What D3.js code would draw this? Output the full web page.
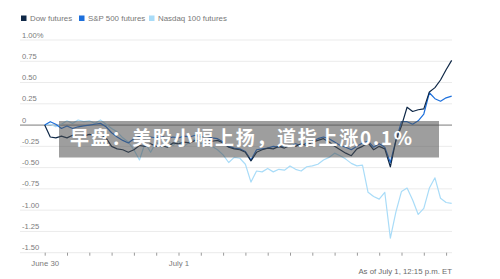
<!DOCTYPE html>
<html>
<head>
<meta charset="utf-8">
<script src="https://cdn.jsdelivr.net/npm/d3@7"></script>
<style>
  body { margin: 0; background: #fff; }
  svg { display: block; font-family: "Liberation Sans", Arial, sans-serif; }
</style>
</head>
<body>
<svg id="chart" width="500" height="279"></svg>
<script>
// hours since June 30, 00:00 (one reading per hour)
const hours = d3.range(0, 74);

const seriesNames = ['Dow futures', 'S&P 500 futures', 'Nasdaq 100 futures'];
const seriesColors = ['#0f2847', '#1c6fdc', '#a9dcf8'];

// percent change
const dow = [
  0, -0.14, -0.15, -0.13, -0.15, -0.12, -0.14, -0.13, -0.11, -0.12,
  -0.11, -0.15, -0.25, -0.28, -0.29, -0.32, -0.29, -0.24, -0.25, -0.22,
  -0.25, -0.24, -0.26, -0.21, -0.22, -0.2, -0.21, -0.18, -0.19, -0.16,
  -0.19, -0.18, -0.21, -0.26, -0.28, -0.29, -0.32, -0.42, -0.32, -0.29,
  -0.27, -0.28, -0.25, -0.27, -0.24, -0.25, -0.22, -0.24, -0.2, -0.18,
  -0.16, -0.2, -0.25, -0.29, -0.33, -0.36, -0.28, -0.25, -0.21, -0.29,
  -0.25, -0.28, -0.49, -0.18, -0.01, 0.21, 0.16, 0.18, 0.19, 0.39,
  0.44, 0.53, 0.65, 0.76
];
const sp500 = [
  0, 0.04, 0.01, -0.04, -0.01, -0.04, -0.02, -0.01, 0, 0.01,
  0.02, -0.02, -0.09, -0.14, -0.18, -0.21, -0.16, -0.13, -0.16, -0.14,
  -0.15, -0.13, -0.16, -0.14, -0.15, -0.13, -0.14, -0.12, -0.14, -0.13,
  -0.15, -0.16, -0.2, -0.25, -0.27, -0.28, -0.31, -0.41, -0.29, -0.28,
  -0.27, -0.25, -0.26, -0.24, -0.25, -0.22, -0.24, -0.21, -0.19, -0.16,
  -0.14, -0.16, -0.2, -0.24, -0.26, -0.29, -0.25, -0.21, -0.19, -0.26,
  -0.22, -0.26, -0.44, -0.18, 0.04, 0.04, 0.01, 0.05, 0.13, 0.38,
  0.31, 0.28, 0.32, 0.34
];
const nasdaq = [
  0, 0.01, -0.02, 0.01, 0.05, 0.02, 0.06, 0.04, 0.05, 0.02,
  0.06, 0.01, -0.04, -0.08, -0.15, -0.2, -0.29, -0.41, -0.21, -0.32,
  -0.2, -0.26, -0.18, -0.24, -0.19, -0.25, -0.2, -0.16, -0.22, -0.19,
  -0.25, -0.29, -0.35, -0.44, -0.38, -0.39, -0.46, -0.67, -0.54, -0.55,
  -0.51, -0.55, -0.52, -0.53, -0.48, -0.52, -0.54, -0.49, -0.48, -0.46,
  -0.41, -0.38, -0.33, -0.36, -0.4, -0.45, -0.48, -0.47, -0.79, -0.84,
  -0.87, -0.79, -1.33, -1.02, -0.78, -0.74, -0.88, -1.05, -0.98, -0.74,
  -0.62, -0.86, -0.91, -0.92
];

const yTicks = [1, 0.75, 0.5, 0.25, 0, -0.25, -0.5, -0.75, -1, -1.25, -1.5];
const xTicks = d3.range(0, 73, 4);
const xLabels = { 0: 'June 30', 24: 'July 1' };
const footnote = 'As of July 1, 12:15 p.m. ET';
const banner = '早盘：美股小幅上扬，道指上涨0.1%';

const svg = d3.select('#chart');
const left = 20, right = 452;

const x = d3.scaleLinear().domain([0, 72]).range([44.7, 446.1]);
const y = d3.scaleLinear().domain([-1.5, 1]).range([252.7, 40]);

// gridlines + y labels
svg.append('g')
  .selectAll('line')
  .data(yTicks)
  .join('line')
  .attr('x1', left).attr('x2', right)
  .attr('y1', d => y(d)).attr('y2', d => y(d))
  .attr('stroke', d => d === 0 ? '#7a7a7a' : '#ebebeb')
  .attr('stroke-width', 1);

svg.append('g')
  .selectAll('text')
  .data(yTicks)
  .join('text')
  .attr('x', 22)
  .attr('y', d => y(d) - 2.5)
  .attr('font-size', 7.6)
  .attr('fill', '#7a7a7a')
  .text(d => d === 1 ? '1.00%' : d === 0 ? '0' : d.toFixed(2));

// x axis ticks
const xAxis = d3.axisBottom(x)
  .tickValues(xTicks)
  .tickSize(3)
  .tickPadding(5)
  .tickFormat(d => xLabels[d] || '');
const gx = svg.append('g')
  .attr('transform', `translate(0,${y(-1.5)})`)
  .call(xAxis);
gx.select('.domain').remove();
gx.selectAll('.tick line').attr('stroke', '#9a9a9a');
gx.selectAll('.tick text')
  .attr('font-size', 7.8)
  .attr('fill', '#7a7a7a')
  .attr('font-family', '"Liberation Sans", Arial, sans-serif');

// lines, light first so darker ones sit on top
const line = d3.line()
  .x((d, i) => x(hours[i]))
  .y(d => y(d));

[nasdaq, sp500, dow].forEach((vals, k) => {
  svg.append('path')
    .datum(vals)
    .attr('d', line)
    .attr('fill', 'none')
    .attr('stroke', seriesColors[2 - k])
    .attr('stroke-width', 1.2)
    .attr('stroke-linejoin', 'round');
});

// legend
const legendX = [21, 79, 149];
const lg = svg.append('g')
  .selectAll('g')
  .data(seriesNames)
  .join('g')
  .attr('transform', (d, i) => `translate(${legendX[i]},15.5)`);
lg.append('rect')
  .attr('width', 5.5).attr('height', 5.5)
  .attr('fill', (d, i) => seriesColors[i]);
lg.append('text')
  .attr('x', 9).attr('y', 5.5)
  .attr('font-size', 7.9)
  .attr('fill', '#777')
  .text(d => d);

// footnote
svg.append('text')
  .attr('x', right).attr('y', 274)
  .attr('text-anchor', 'end')
  .attr('font-size', 7.8)
  .attr('fill', '#6a6a6a')
  .text(footnote);

// headline banner over the chart
svg.append('rect')
  .attr('x', 59).attr('y', 121)
  .attr('width', 380).attr('height', 36.5)
  .attr('fill', 'rgba(78,78,78,0.55)');
svg.append('text')
  .attr('x', 70).attr('y', 144.5)
  .attr('font-family', '"Noto Sans CJK SC", sans-serif')
  .attr('font-weight', 'bold')
  .attr('font-size', 19)
  .attr('fill', '#fff')
  .attr('textLength', 342)
  .attr('lengthAdjust', 'spacing')
  .text(banner);
</script>
</body>
</html>
